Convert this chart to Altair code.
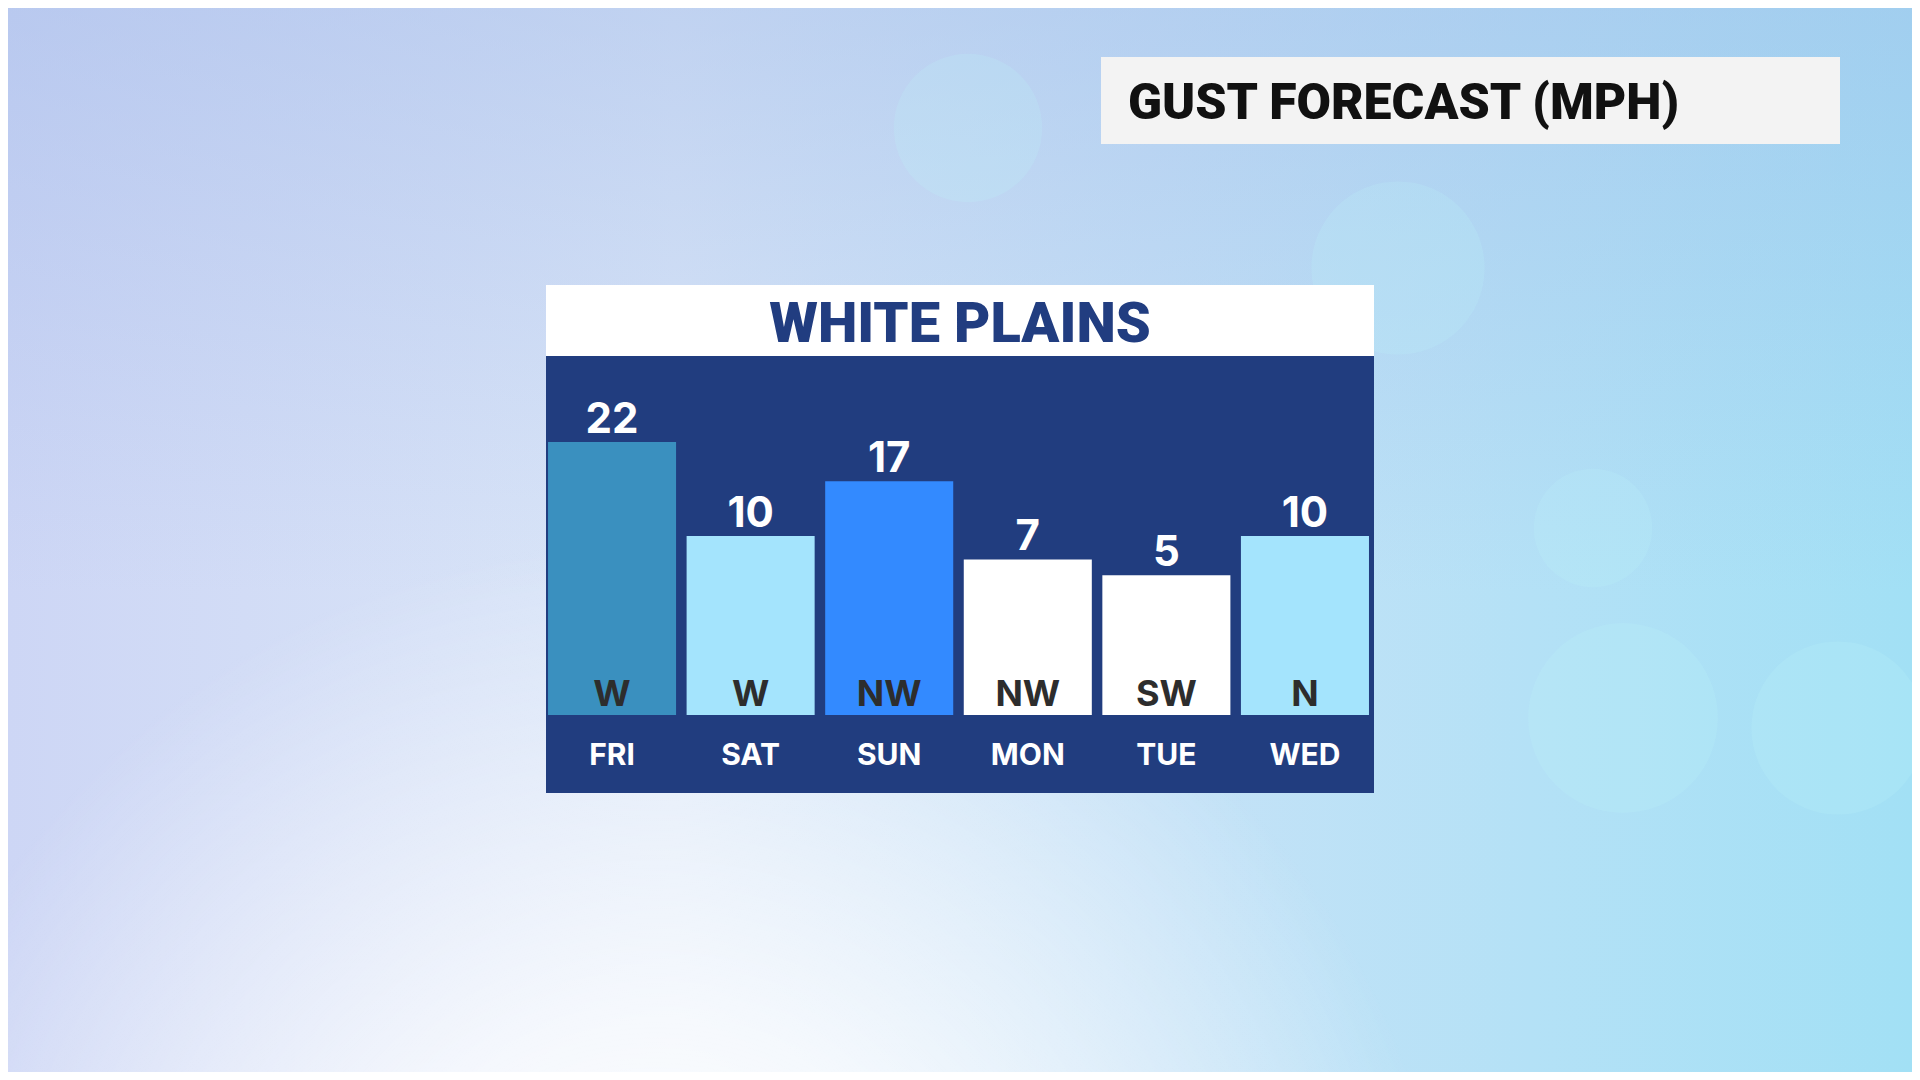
import altair as alt
import pandas as pd

# ---- data ----
days = ["FRI", "SAT", "SUN", "MON", "TUE", "WED"]
gusts = [22, 10, 17, 7, 5, 10]
directions = ["W", "W", "NW", "NW", "SW", "N"]
bar_colors = ["#3a90bf", "#a4e4fd", "#338aff", "#ffffff", "#ffffff", "#a4e4fd"]
title_text = "GUST FORECAST (MPH)"
station = "WHITE PLAINS"

df = pd.DataFrame({"day": days, "gust": gusts, "dir": directions, "color": bar_colors})

W, H = 1904, 1064
one = alt.Data(values=[{}])

def rect(x, x2, y, y2, color, **kw):
    return alt.Chart(one).mark_rect(color=color, **kw).encode(
        x=alt.value(x), x2=alt.value(x2), y=alt.value(y), y2=alt.value(y2))

# ---- background ----
bg_base = rect(0, W, 0, H, alt.Gradient(
    gradient="linear", x1=0, y1=0, x2=1, y2=0,
    stops=[alt.GradientStop(offset=0, color="#cdd6f5"),
           alt.GradientStop(offset=0.35, color="#dbe7f8"),
           alt.GradientStop(offset=0.6, color="#c6e2f7"),
           alt.GradientStop(offset=1, color="#a2e0f5")]))
bg_top = rect(0, W, 0, H, alt.Gradient(
    gradient="linear", x1=0, y1=0, x2=0, y2=1,
    stops=[alt.GradientStop(offset=0, color="rgba(160,185,232,0.45)"),
           alt.GradientStop(offset=0.55, color="rgba(160,185,232,0)")]))
bg_glow = rect(0, W, 0, H, alt.Gradient(
    gradient="radial", x1=0.34, y1=0.92, r1=0, x2=0.34, y2=0.92, r2=0.42,
    stops=[alt.GradientStop(offset=0, color="rgba(255,255,255,1)"),
           alt.GradientStop(offset=0.4, color="rgba(255,255,255,0.75)"),
           alt.GradientStop(offset=1, color="rgba(255,255,255,0)")]))
bg_corner = rect(0, W, 0, H, alt.Gradient(
    gradient="radial", x1=0, y1=0, r1=0, x2=0, y2=0, r2=0.18,
    stops=[alt.GradientStop(offset=0, color="rgba(245,240,255,0.9)"),
           alt.GradientStop(offset=1, color="rgba(245,240,255,0)")]))

# faint bokeh circles (decoration)
bokeh = alt.Chart(alt.Data(values=[
    {"bx": 1390, "by": 260, "s": 30000}, {"bx": 1585, "by": 520, "s": 14000},
    {"bx": 1615, "by": 710, "s": 36000}, {"bx": 1830, "by": 720, "s": 30000},
    {"bx": 960, "by": 120, "s": 22000}])).mark_point(
    shape="circle", filled=True, color="#bff3fc", opacity=0.2).encode(
    x=alt.X("bx:Q", scale=alt.Scale(domain=[0, W], range=[0, W]), axis=None),
    y=alt.Y("by:Q", scale=alt.Scale(domain=[0, H], range=[0, H]), axis=None),
    size=alt.Size("s:Q", scale=None, legend=None))

# ---- title box ----
title_box = rect(1093, 1832, 49, 136, "#f3f3f3")
title = alt.Chart(one).mark_text(
    text=title_text, font="Roboto", fontWeight=900, fontSize=50, color="#111111",
    align="left", baseline="alphabetic").encode(x=alt.value(1120), y=alt.value(111))

# ---- panel ----
panel = rect(538, 1366, 277, 785, "#213d7f")
header = rect(538, 1366, 277, 348, "#ffffff")
header_txt = alt.Chart(one).mark_text(
    text=station, font="Roboto", fontWeight=900, fontSize=56, color="#213d80",
    align="center", baseline="alphabetic").encode(
    x=alt.value(952), y=alt.value(334))

xs = alt.X("day:N", sort=days, axis=None,
           scale=alt.Scale(range=[534.75, 1366.25], paddingInner=0.076, paddingOuter=0.038))
ys = alt.Y("gust:Q", axis=None, scale=alt.Scale(domain=[0, 22], range=[606.3, 434.0], nice=False, zero=False))

base = alt.Chart(df)
bars = base.mark_rect().encode(x=xs, y=ys, y2=alt.value(707), color=alt.Color("color:N", scale=None))
vals = base.mark_text(font="Inter", fontWeight=700, fontSize=42, color="#ffffff",
                      baseline="alphabetic", dy=-9).encode(x=xs, y=ys, text="gust:Q")
dirs = base.mark_text(font="Inter", fontWeight=700, fontSize=36, color="#2d2d2d",
                      baseline="alphabetic").encode(x=xs, y=alt.value(698), text="dir:N")
dlab = base.mark_text(font="Inter", fontWeight=700, fontSize=30, color="#ffffff",
                      baseline="alphabetic").encode(x=xs, y=alt.value(757), text="day:N")

chart = alt.layer(bg_base, bg_top, bg_glow, bg_corner, bokeh, title_box, title,
                  panel, header, header_txt, bars, vals, dirs, dlab).properties(
    width=W, height=H, padding=0, autosize=alt.AutoSizeParams(type="none")
).resolve_scale(x="independent", y="independent").configure_view(stroke=None)

chart.save("out.html", embed_options={"renderer": "svg", "actions": False})
